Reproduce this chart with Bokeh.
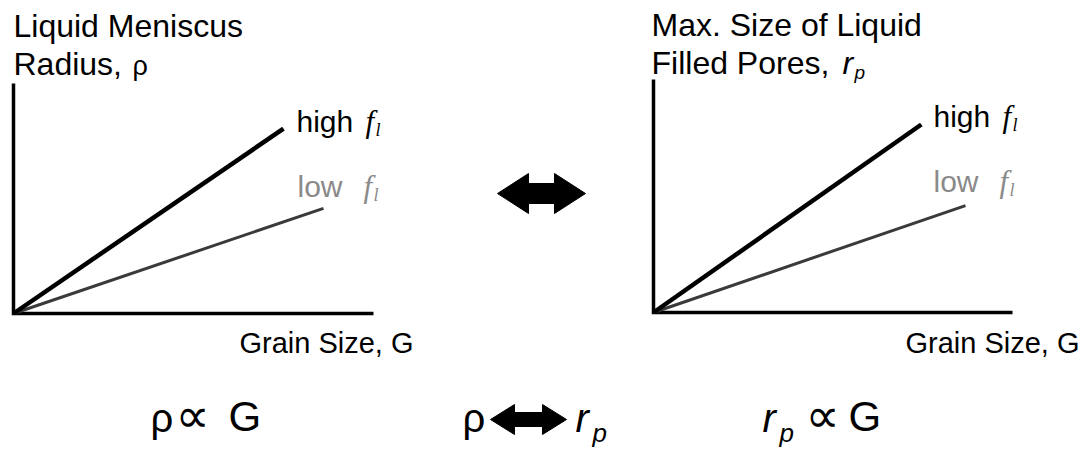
from bokeh.plotting import figure
from bokeh.models import Range1d
from bokeh.core.properties import value
from bokeh.embed import file_html
from bokeh.resources import INLINE

# ---- data (normalised grain size G and pore/meniscus size) ----
axis_G = [0.0, 0.0, 1.0]
axis_R = [1.0, 0.0, 0.0]
high_G = {"left": [0.0, 0.75], "right": [0.0, 0.746]}
high_R = {"left": [0.0, 0.804], "right": [0.0, 0.807]}
low_G = {"left": [0.0, 0.861], "right": [0.0, 0.869]}
low_R = {"left": [0.0, 0.457], "right": [0.0, 0.459]}

# ---- layout (page pixel geometry) ----
W, H = 1088, 452
X0, X1, Y0, Y1 = 0, W, H, 0
panels = {"left": (13, 313, 360, 230), "right": (653, 312, 359, 233)}

SANS = value("Liberation Sans")
SERIF = value("Liberation Serif")
SYM = value("DejaVu Sans")

p = figure(width=W, height=H, output_backend="svg", toolbar_location=None,
           x_range=Range1d(X0, X1), y_range=Range1d(Y0, Y1),
           x_axis_location=None, y_axis_location=None,
           min_border=0, min_border_left=0, min_border_right=0,
           min_border_top=0, min_border_bottom=0)
p.outline_line_color = None
p.grid.visible = False
p.background_fill_color = "white"

for name, (ox, oy, pw, ph) in panels.items():
    p.extra_x_ranges[name + "_x"] = Range1d((X0 - ox) / pw, (X1 - ox) / pw)
    p.extra_y_ranges[name + "_y"] = Range1d((oy - Y0) / ph, (oy - Y1) / ph)
    kw = dict(x_range_name=name + "_x", y_range_name=name + "_y")
    p.line(axis_G, axis_R, line_color="black", line_width=3.5, line_join="miter", **kw)
    p.line(low_G[name], low_R[name], line_color="#3a3a3a", line_width=3, **kw)
    p.line(high_G[name], high_R[name], line_color="black", line_width=4.5, **kw)


def txt(x, y, s, size, font=SANS, style="normal", color="black", align="left"):
    # y is the wanted baseline; compensate the renderer's baseline placement
    p.text(x=[x], y=[y - 0.37 * size], text=[s], text_font=font,
           text_font_size=f"{size}px", text_font_style=style, text_color=color,
           text_align=align, text_baseline="alphabetic")


# titles
txt(13, 37, "Liquid Meniscus", 32)
txt(13, 75, "Radius,", 32)
txt(132, 75, "ρ", 27)
txt(651, 36, "Max. Size of Liquid", 32)
txt(651, 74, "Filled Pores,", 32)
txt(842, 74, "r", 32, style="italic")
txt(854, 79, "p", 19, style="italic")

# x-axis labels
txt(413, 353, "Grain Size, G", 29, align="right")
txt(1079, 353, "Grain Size, G", 29, align="right")

# series labels
for (hx, hy, lx, ly) in [(296, 132, 297, 197), (933, 127, 933, 192)]:
    txt(hx, hy, "high", 30)
    txt(hx + 69, hy, "f", 31, font=SERIF, style="italic")
    txt(hx + 79, hy + 4, "l", 18, font=SERIF, style="italic")
    txt(lx, ly, "low", 30, color="#8a8a8a")
    txt(lx + 66, ly, "f", 31, font=SERIF, style="italic", color="#8a8a8a")
    txt(lx + 76, ly + 4, "l", 18, font=SERIF, style="italic", color="#8a8a8a")


def arrow(cx, cy, half_len, head_len, head_half, shaft_half):
    xs = [cx - half_len, cx - half_len + head_len, cx - half_len + head_len,
          cx + half_len - head_len, cx + half_len - head_len, cx + half_len,
          cx + half_len - head_len, cx + half_len - head_len,
          cx - half_len + head_len, cx - half_len + head_len]
    ys = [cy, cy - head_half, cy - shaft_half, cy - shaft_half, cy - head_half, cy,
          cy + head_half, cy + shaft_half, cy + shaft_half, cy + head_half]
    p.patch(xs, ys, fill_color="black", line_color="black", line_width=1)


arrow(541, 193, 44, 31, 20, 10)

# bottom relations
txt(150, 432, "ρ", 40)
txt(175, 432, "∝", 48, font=SYM)
txt(228, 432, "G", 42)
txt(462, 432, "ρ", 40)
arrow(528, 419, 38, 24, 15, 7)
txt(575, 432, "r", 40, style="italic")
txt(592, 442, "p", 26, style="italic")
txt(762, 432, "r", 40, style="italic")
txt(779, 442, "p", 26, style="italic")
txt(805, 432, "∝", 48, font=SYM)
txt(848, 432, "G", 42)

open("out.html", "w").write(file_html(p, INLINE))
